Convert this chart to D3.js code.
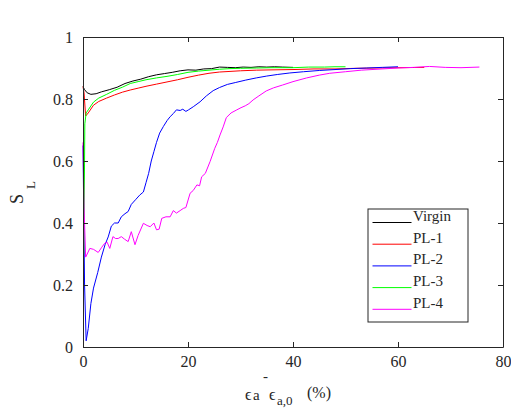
<!DOCTYPE html>
<html>
<head>
<meta charset="utf-8">
<script src="https://cdn.jsdelivr.net/npm/d3@7"></script>
<style>
  body { margin: 0; background: #fff; }
  svg { display: block; }
</style>
</head>
<body>
<div id="wrapper"></div>
<script>
// # Data (x = strain %, y = S_L)
const xTicks = [0, 20, 40, 60, 80];
const yTicks = [0, 0.2, 0.4, 0.6, 0.8, 1];
const yTickLabels = ["0", "0.2", "0.4", "0.6", "0.8", "1"];

const seriesNames = ["Virgin", "PL-1", "PL-2", "PL-3", "PL-4"];
const seriesColors = ["#000000", "#ff0000", "#0000ff", "#00ff00", "#ff00ff"];

const virgin = [
  [0, 0.84], [0.3, 0.83], [0.8, 0.82], [1.5, 0.815], [2.5, 0.817], [3.5, 0.823],
  [5, 0.83], [6.5, 0.838], [8, 0.85], [9.5, 0.858], [11, 0.864], [12.5, 0.872],
  [14, 0.878], [15.5, 0.882], [17, 0.886], [18.5, 0.891], [20, 0.894], [21.5, 0.893],
  [23, 0.897], [24.5, 0.898], [26, 0.903], [27.5, 0.902], [29, 0.901], [30.5, 0.903],
  [32, 0.902], [33.5, 0.904], [35, 0.903], [36.5, 0.904], [38, 0.903], [40, 0.902]
];

const pl1 = [
  [0, 0.84], [0.2, 0.82], [0.5, 0.745], [1, 0.755], [2, 0.78], [3, 0.792],
  [4.5, 0.803], [6, 0.813], [7.5, 0.822], [9, 0.829], [10.5, 0.835], [12, 0.841],
  [14, 0.848], [16, 0.855], [18, 0.862], [20, 0.87], [22, 0.877], [24, 0.883],
  [26, 0.887], [28, 0.889], [30, 0.891], [33, 0.893], [36, 0.894], [40, 0.895],
  [44, 0.897], [48, 0.897], [52, 0.899], [56, 0.9], [60, 0.901], [65, 0.902]
];

const pl2 = [
  [0, 0.65], [0.3, 0.2], [0.6, 0.02], [1, 0.06], [1.5, 0.14], [2, 0.19],
  [2.8, 0.24], [3.5, 0.29], [4.2, 0.33], [4.8, 0.355], [5.4, 0.39], [6, 0.4],
  [6.7, 0.4], [7.3, 0.42], [8, 0.43], [8.6, 0.437], [9.2, 0.46], [10, 0.475],
  [10.8, 0.49], [11.5, 0.5], [12, 0.53], [12.5, 0.56], [13, 0.6], [13.5, 0.63],
  [14, 0.66], [14.6, 0.69], [15.3, 0.711], [16, 0.73], [16.6, 0.743], [17.2, 0.753],
  [17.8, 0.765], [18.5, 0.763], [19, 0.767], [19.6, 0.76], [20.1, 0.765], [21, 0.775],
  [22.3, 0.791], [23.5, 0.81], [24.8, 0.827], [26, 0.837], [27.5, 0.847], [29, 0.853],
  [31, 0.861], [33, 0.868], [35, 0.874], [37, 0.879], [39.4, 0.884], [42, 0.888],
  [45, 0.892], [48, 0.895], [51, 0.898], [54, 0.9], [57, 0.902], [60, 0.904]
];

const pl3 = [
  [0.15, 0.3], [0.25, 0.5], [0.35, 0.72], [0.6, 0.755], [1, 0.765], [2, 0.79],
  [3, 0.803], [4.5, 0.815], [6, 0.828], [7.5, 0.838], [9, 0.85], [10.5, 0.856],
  [12, 0.862], [14, 0.868], [16, 0.873], [18, 0.879], [20, 0.886], [22, 0.89],
  [24, 0.893], [26, 0.896], [28, 0.898], [30, 0.899], [33, 0.9], [36, 0.901],
  [40, 0.901], [43, 0.903], [46, 0.903], [48, 0.904], [50, 0.904]
];

const pl4 = [
  [0, 0.66], [0.2, 0.45], [0.5, 0.29], [0.8, 0.3], [1.3, 0.318], [2, 0.315],
  [2.9, 0.305], [3.5, 0.32], [4.1, 0.334], [4.6, 0.338], [5.1, 0.318], [5.7, 0.356],
  [6.2, 0.35], [6.7, 0.35], [7.3, 0.356], [7.9, 0.348], [8.6, 0.34], [9.2, 0.372],
  [9.9, 0.33], [10.5, 0.36], [11.5, 0.399], [12.2, 0.392], [12.8, 0.388], [13.5, 0.4],
  [14, 0.378], [14.5, 0.38], [15, 0.415], [15.8, 0.42], [16.6, 0.42], [17.2, 0.44],
  [17.8, 0.432], [18.5, 0.44], [19.1, 0.447], [19.6, 0.45], [20.4, 0.496], [21, 0.505],
  [21.7, 0.523], [22.2, 0.52], [22.6, 0.549], [23.3, 0.56], [24.2, 0.598], [25.1, 0.641],
  [25.6, 0.66], [26.1, 0.684], [26.7, 0.71], [27.3, 0.74], [28.2, 0.755], [29.3, 0.765],
  [30.1, 0.772], [30.9, 0.778], [31.6, 0.785], [32.4, 0.797], [33.5, 0.81], [34.9, 0.826],
  [36.3, 0.836], [38, 0.845], [40, 0.856], [42.6, 0.868], [45, 0.877], [47, 0.883],
  [50, 0.888], [53, 0.893], [56, 0.896], [60, 0.9], [63, 0.902], [66, 0.905],
  [69, 0.902], [72, 0.901], [75.5, 0.903]
];

const allSeries = [virgin, pl1, pl2, pl3, pl4];

function drawChart() {
  // # Dimensions
  const dimensions = {
    width: 511,
    height: 412,
    margin: { top: 37, right: 8, bottom: 65, left: 83 },
  };
  dimensions.boundedWidth = dimensions.width - dimensions.margin.left - dimensions.margin.right;
  dimensions.boundedHeight = dimensions.height - dimensions.margin.top - dimensions.margin.bottom;

  const serif = "Liberation Serif";
  const axisColor = "#262626";

  // # Canvas
  const wrapper = d3.select("#wrapper")
    .append("svg")
    .attr("width", dimensions.width)
    .attr("height", dimensions.height)
    .attr("font-family", serif)
    .style("background", "#fff");

  const bounds = wrapper.append("g")
    .attr("transform", `translate(${dimensions.margin.left},${dimensions.margin.top})`);

  // # Scales
  const xScale = d3.scaleLinear()
    .domain([0, 80])
    .range([0, dimensions.boundedWidth]);

  const yScale = d3.scaleLinear()
    .domain([0, 1])
    .range([dimensions.boundedHeight, 0]);

  // # Lines
  const lineGenerator = d3.line()
    .x(d => xScale(d[0]))
    .y(d => yScale(d[1]));

  bounds.append("g")
    .selectAll("path")
    .data(allSeries)
    .join("path")
    .attr("d", lineGenerator)
    .attr("fill", "none")
    .attr("stroke", (d, i) => seriesColors[i])
    .attr("stroke-width", 1);

  // # Axes (box with inward ticks)
  const xAxis = bounds.append("g")
    .attr("transform", `translate(0,${dimensions.boundedHeight})`)
    .call(d3.axisBottom(xScale).tickValues(xTicks).tickSizeInner(-5).tickSizeOuter(0).tickPadding(9));

  const xAxisTop = bounds.append("g")
    .call(d3.axisTop(xScale).tickValues(xTicks).tickSizeInner(-5).tickSizeOuter(0).tickFormat(""));

  const yAxis = bounds.append("g")
    .call(d3.axisLeft(yScale).tickValues(yTicks).tickSizeInner(-5).tickSizeOuter(0).tickPadding(10)
      .tickFormat((d, i) => yTickLabels[i]));

  const yAxisRight = bounds.append("g")
    .attr("transform", `translate(${dimensions.boundedWidth},0)`)
    .call(d3.axisRight(yScale).tickValues(yTicks).tickSizeInner(-5).tickSizeOuter(0).tickFormat(""));

  [xAxis, xAxisTop, yAxis, yAxisRight].forEach(ax => {
    ax.attr("font-family", serif).attr("font-size", 16);
    ax.selectAll("path, line").attr("stroke", axisColor);
    ax.selectAll("text")
      .attr("fill", axisColor)
      .attr("font-family", serif)
      .attr("font-size", 16);
  });

  // # Axis labels
  const yLabel = wrapper.append("text")
    .attr("transform", "translate(23,204) rotate(-90)")
    .attr("font-family", serif)
    .attr("fill", axisColor);
  yLabel.append("tspan").text("S").attr("font-size", 18);
  yLabel.append("tspan").text("L").attr("dx", 5).attr("dy", 12).attr("font-size", 13);

  const xLabel = wrapper.append("g")
    .attr("fill", axisColor);
  const xParts = [
    { t: "\u03f5", x: 245, y: 400, s: 16 },
    { t: "a", x: 253, y: 400, s: 15 },
    { t: "-", x: 263, y: 381, s: 15 },
    { t: "\u03f5", x: 269, y: 400, s: 16 },
    { t: "a,0", x: 277, y: 405, s: 13 },
    { t: "(%)", x: 307, y: 398, s: 16 },
  ];
  xLabel.selectAll("text")
    .data(xParts)
    .join("text")
    .attr("x", d => d.x)
    .attr("y", d => d.y)
    .attr("font-family", serif)
    .attr("font-size", d => d.s)
    .text(d => d.t);

  // # Legend
  const legend = wrapper.append("g")
    .attr("transform", "translate(368,209)");

  legend.append("rect")
    .attr("width", 100)
    .attr("height", 113)
    .attr("fill", "#fff")
    .attr("stroke", axisColor)
    .attr("stroke-width", 1);

  const legendItems = legend.selectAll(".item")
    .data(seriesNames)
    .join("g")
    .attr("class", "item")
    .attr("transform", (d, i) => `translate(0,${13.5 + i * 21.7})`);

  legendItems.append("line")
    .attr("x1", 4.5)
    .attr("x2", 43.5)
    .attr("stroke", (d, i) => seriesColors[i])
    .attr("stroke-width", 1);

  legendItems.append("text")
    .attr("x", 45)
    .attr("y", 0)
    .attr("dy", "-0.1em")
    .attr("fill", axisColor)
    .attr("font-family", serif)
    .attr("font-size", 15)
    .text(d => d);
}
drawChart();
</script>
</body>
</html>
